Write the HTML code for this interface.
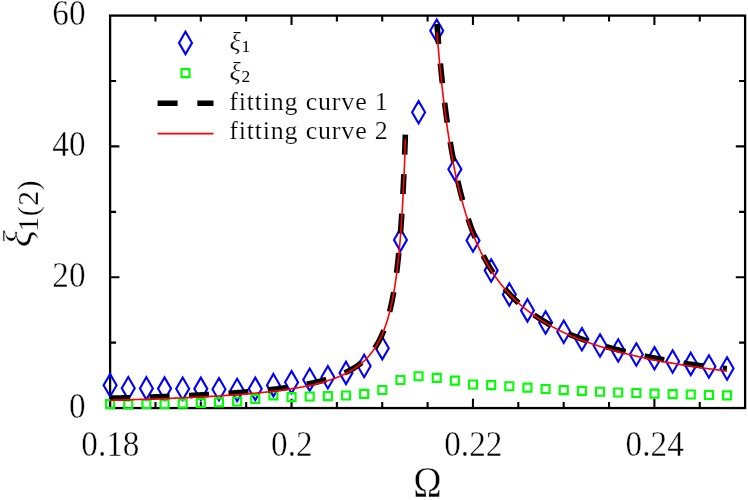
<!DOCTYPE html>
<html lang="en"><head><meta charset="utf-8"><title>Correlation length vs Omega</title>
<style>html,body{margin:0;padding:0;background:#fff;}body{width:748px;height:500px;overflow:hidden;font-family:"Liberation Serif",serif;}svg{display:block;will-change:transform;}text{font-family:"Liberation Serif",serif;fill:#000;stroke:#fff;stroke-width:0;}.t1{stroke-width:0.2px;}.t2{stroke-width:0.4px;}.t3{stroke-width:0.45px;}.t0{stroke-width:0;}</style></head><body>
<svg width="748" height="500" viewBox="0 0 748 500">
<rect x="0" y="0" width="748" height="500" fill="#ffffff"/>
<g stroke="#000" fill="none" stroke-linecap="butt">
<rect x="110.10" y="15.60" width="635.00" height="392.45" stroke-width="2.3" stroke-linejoin="miter"/>
<path d="M155.46 408.05 v-6.00 M155.46 15.60 v6.00 M200.81 408.05 v-6.00 M200.81 15.60 v6.00 M246.17 408.05 v-6.00 M246.17 15.60 v6.00 M291.53 408.05 v-9.30 M291.53 15.60 v9.30 M336.89 408.05 v-6.00 M336.89 15.60 v6.00 M382.24 408.05 v-6.00 M382.24 15.60 v6.00 M427.60 408.05 v-6.00 M427.60 15.60 v6.00 M472.96 408.05 v-9.30 M472.96 15.60 v9.30 M518.31 408.05 v-6.00 M518.31 15.60 v6.00 M563.67 408.05 v-6.00 M563.67 15.60 v6.00 M609.03 408.05 v-6.00 M609.03 15.60 v6.00 M654.39 408.05 v-9.30 M654.39 15.60 v9.30 M699.74 408.05 v-6.00 M699.74 15.60 v6.00 M110.10 342.64 h6.00 M745.10 342.64 h-6.00 M110.10 277.23 h9.30 M745.10 277.23 h-9.30 M110.10 211.83 h6.00 M745.10 211.83 h-6.00 M110.10 146.42 h9.30 M745.10 146.42 h-9.30 M110.10 81.01 h6.00 M745.10 81.01 h-6.00" stroke-width="2.1"/>
</g>
<path d="M110.10 374.10 L116.60 385.30 L110.10 396.50 L103.60 385.30Z M128.25 377.00 L134.75 388.20 L128.25 399.40 L121.75 388.20Z M146.39 377.20 L152.89 388.40 L146.39 399.60 L139.89 388.40Z M164.54 377.40 L171.04 388.60 L164.54 399.80 L158.04 388.60Z M182.68 377.50 L189.18 388.70 L182.68 399.90 L176.18 388.70Z M200.83 377.65 L207.33 388.85 L200.83 400.05 L194.33 388.85Z M218.98 378.05 L225.48 389.25 L218.98 400.45 L212.48 389.25Z M237.12 378.75 L243.62 389.95 L237.12 401.15 L230.62 389.95Z M255.27 377.65 L261.77 388.85 L255.27 400.05 L248.77 388.85Z M273.41 373.95 L279.91 385.15 L273.41 396.35 L266.91 385.15Z M291.56 371.10 L298.06 382.30 L291.56 393.50 L285.06 382.30Z M309.71 368.50 L316.21 379.70 L309.71 390.90 L303.21 379.70Z M327.85 366.10 L334.35 377.30 L327.85 388.50 L321.35 377.30Z M346.00 361.70 L352.50 372.90 L346.00 384.10 L339.50 372.90Z M364.14 354.80 L370.64 366.00 L364.14 377.20 L357.64 366.00Z M382.29 337.00 L388.79 348.20 L382.29 359.40 L375.79 348.20Z M400.44 228.70 L406.94 239.90 L400.44 251.10 L393.94 239.90Z M418.58 101.10 L425.08 112.30 L418.58 123.50 L412.08 112.30Z M436.73 19.50 L443.23 30.70 L436.73 41.90 L430.23 30.70Z M454.87 158.00 L461.37 169.20 L454.87 180.40 L448.37 169.20Z M473.02 229.30 L479.52 240.50 L473.02 251.70 L466.52 240.50Z M491.17 259.30 L497.67 270.50 L491.17 281.70 L484.67 270.50Z M509.31 283.30 L515.81 294.50 L509.31 305.70 L502.81 294.50Z M527.46 299.20 L533.96 310.40 L527.46 321.60 L520.96 310.40Z M545.60 311.30 L552.10 322.50 L545.60 333.70 L539.10 322.50Z M563.75 320.55 L570.25 331.75 L563.75 342.95 L557.25 331.75Z M581.90 328.05 L588.40 339.25 L581.90 350.45 L575.40 339.25Z M600.04 334.30 L606.54 345.50 L600.04 356.70 L593.54 345.50Z M618.19 339.30 L624.69 350.50 L618.19 361.70 L611.69 350.50Z M636.33 343.30 L642.83 354.50 L636.33 365.70 L629.83 354.50Z M654.48 347.10 L660.98 358.30 L654.48 369.50 L647.98 358.30Z M672.63 350.30 L679.13 361.50 L672.63 372.70 L666.13 361.50Z M690.77 352.70 L697.27 363.90 L690.77 375.10 L684.27 363.90Z M708.92 355.30 L715.42 366.50 L708.92 377.70 L702.42 366.50Z M727.06 357.30 L733.56 368.50 L727.06 379.70 L720.56 368.50Z" fill="none" stroke="#0000ff" stroke-width="2.1" stroke-linejoin="miter" stroke-miterlimit="10"/>
<path d="M106.10 400.15 h8.00 v8.00 h-8.00Z M124.25 400.35 h8.00 v8.00 h-8.00Z M142.39 399.95 h8.00 v8.00 h-8.00Z M160.54 400.05 h8.00 v8.00 h-8.00Z M178.68 399.65 h8.00 v8.00 h-8.00Z M196.83 398.85 h8.00 v8.00 h-8.00Z M214.98 398.35 h8.00 v8.00 h-8.00Z M233.12 397.55 h8.00 v8.00 h-8.00Z M251.27 394.95 h8.00 v8.00 h-8.00Z M269.41 391.35 h8.00 v8.00 h-8.00Z M287.56 393.15 h8.00 v8.00 h-8.00Z M305.71 392.45 h8.00 v8.00 h-8.00Z M323.85 392.15 h8.00 v8.00 h-8.00Z M342.00 391.55 h8.00 v8.00 h-8.00Z M360.14 389.85 h8.00 v8.00 h-8.00Z M378.29 385.95 h8.00 v8.00 h-8.00Z M396.44 375.95 h8.00 v8.00 h-8.00Z M414.58 372.25 h8.00 v8.00 h-8.00Z M432.73 373.85 h8.00 v8.00 h-8.00Z M450.87 376.65 h8.00 v8.00 h-8.00Z M469.02 380.45 h8.00 v8.00 h-8.00Z M487.17 381.15 h8.00 v8.00 h-8.00Z M505.31 382.25 h8.00 v8.00 h-8.00Z M523.46 383.65 h8.00 v8.00 h-8.00Z M541.60 384.95 h8.00 v8.00 h-8.00Z M559.75 386.15 h8.00 v8.00 h-8.00Z M577.90 386.90 h8.00 v8.00 h-8.00Z M596.04 387.75 h8.00 v8.00 h-8.00Z M614.19 388.55 h8.00 v8.00 h-8.00Z M632.33 389.05 h8.00 v8.00 h-8.00Z M650.48 389.65 h8.00 v8.00 h-8.00Z M668.63 390.15 h8.00 v8.00 h-8.00Z M686.77 390.55 h8.00 v8.00 h-8.00Z M704.92 391.05 h8.00 v8.00 h-8.00Z M723.06 391.35 h8.00 v8.00 h-8.00Z" fill="none" stroke="#00ff00" stroke-width="2.1" stroke-linejoin="miter"/>
<g fill="none" stroke="#000" stroke-width="5.6" stroke-dasharray="20 19.5" stroke-linecap="butt" stroke-linejoin="round">
<path d="M110.10 398.22 L111.44 398.19 L112.78 398.15 L114.13 398.12 L115.47 398.08 L116.81 398.05 L118.15 398.01 L119.50 397.98 L120.84 397.94 L122.18 397.90 L123.52 397.87 L124.87 397.83 L126.21 397.79 L127.55 397.75 L128.89 397.71 L130.23 397.67 L131.58 397.63 L132.92 397.59 L134.26 397.55 L135.60 397.51 L136.95 397.47 L138.29 397.43 L139.63 397.39 L140.97 397.35 L142.31 397.30 L143.66 397.26 L145.00 397.22 L146.34 397.17 L147.68 397.13 L149.03 397.08 L150.37 397.04 L151.71 396.99 L153.05 396.95 L154.40 396.90 L155.74 396.85 L157.08 396.80 L158.42 396.76 L159.76 396.71 L161.11 396.66 L162.45 396.61 L163.79 396.56 L165.13 396.51 L166.48 396.46 L167.82 396.40 L169.16 396.35 L170.50 396.30 L171.84 396.24 L173.19 396.19 L174.53 396.14 L175.87 396.08 L177.21 396.02 L178.56 395.97 L179.90 395.91 L181.24 395.85 L182.58 395.79 L183.93 395.73 L185.27 395.67 L186.61 395.61 L187.95 395.55 L189.29 395.49 L190.64 395.43 L191.98 395.36 L193.32 395.30 L194.66 395.23 L196.01 395.17 L197.35 395.10 L198.69 395.03 L200.03 394.96 L201.37 394.89 L202.72 394.82 L204.06 394.75 L205.40 394.68 L206.74 394.61 L208.09 394.53 L209.43 394.46 L210.77 394.38 L212.11 394.31 L213.46 394.23 L214.80 394.15 L216.14 394.07 L217.48 393.99 L218.82 393.91 L220.17 393.82 L221.51 393.74 L222.85 393.66 L224.19 393.57 L225.54 393.48 L226.88 393.39 L228.22 393.30 L229.56 393.21 L230.90 393.12 L232.25 393.03 L233.59 392.93 L234.93 392.84 L236.27 392.74 L237.62 392.64 L238.96 392.54 L240.30 392.44 L241.64 392.33 L242.99 392.23 L244.33 392.12 L245.67 392.01 L247.01 391.90 L248.35 391.79 L249.70 391.67 L251.04 391.56 L252.38 391.44 L253.72 391.32 L255.07 391.20 L256.41 391.07 L257.75 390.95 L259.09 390.82 L260.43 390.69 L261.78 390.55 L263.12 390.42 L264.46 390.28 L265.80 390.14 L267.15 390.00 L268.49 389.85 L269.83 389.70 L271.17 389.55 L272.52 389.40 L273.86 389.25 L275.20 389.09 L276.54 388.93 L277.88 388.76 L279.23 388.59 L280.57 388.42 L281.91 388.25 L283.25 388.07 L284.60 387.89 L285.94 387.71 L287.28 387.52 L288.62 387.32 L289.96 387.13 L291.31 386.92 L292.65 386.72 L293.99 386.50 L295.33 386.29 L296.68 386.07 L298.02 385.84 L299.36 385.61 L300.70 385.37 L302.05 385.12 L303.39 384.88 L304.73 384.62 L306.07 384.36 L307.41 384.09 L308.76 383.82 L310.10 383.54 L311.44 383.25 L312.78 382.95 L314.13 382.65 L315.47 382.34 L316.81 382.02 L318.15 381.69 L319.49 381.35 L320.84 381.01 L322.18 380.66 L323.52 380.30 L324.86 379.93 L326.21 379.55 L327.55 379.16 L328.89 378.75 L330.23 378.34 L331.58 377.91 L332.92 377.47 L334.26 377.01 L335.60 376.54 L336.94 376.05 L338.29 375.54 L339.63 375.02 L340.97 374.47 L342.31 373.91 L343.66 373.32 L345.00 372.71 L346.34 372.08 L347.68 371.43 L349.02 370.75 L350.37 370.04 L351.71 369.31 L353.05 368.54 L354.39 367.74 L355.74 366.89 L357.08 366.00 L358.42 365.07 L359.76 364.08 L361.11 363.04 L362.45 361.93 L363.79 360.76 L365.13 359.53 L366.47 358.23 L367.82 356.85 L369.16 355.38 L370.50 353.82 L371.84 352.15 L373.19 350.37 L374.53 348.47 L375.87 346.42 L376.54 345.34 L377.21 344.22 L377.88 343.05 L378.55 341.84 L379.23 340.58 L379.90 339.27 L380.57 337.91 L381.24 336.48 L381.91 335.00 L382.58 333.45 L383.25 331.82 L383.92 330.12 L384.60 328.33 L385.27 326.45 L385.94 324.48 L386.61 322.41 L387.28 320.22 L387.95 317.93 L388.40 316.33 L388.85 314.67 L389.29 312.95 L389.74 311.17 L390.19 309.32 L390.64 307.40 L391.08 305.41 L391.53 303.34 L391.98 301.18 L392.42 298.94 L392.87 296.60 L393.32 294.16 L393.66 292.26 L393.99 290.30 L394.33 288.28 L394.66 286.18 L395.00 284.01 L395.33 281.77 L395.67 279.45 L396.00 277.04 L396.27 275.04 L396.54 272.97 L396.81 270.84 L397.08 268.64 L397.35 266.36 L397.57 264.40 L397.79 262.39 L398.02 260.31 L398.24 258.18 L398.47 255.99 L398.69 253.73 L398.88 251.74 L399.07 249.70 L399.26 247.61 L399.46 245.46 L399.65 243.25 L399.84 240.99 L400.03 238.67 L400.20 236.58 L400.37 234.44 L400.53 232.25 L400.70 230.01 L400.87 227.71 L401.04 225.35 L401.21 222.93 L401.37 220.45 L401.52 218.19 L401.67 215.88 L401.82 213.52 L401.97 211.09 L402.12 208.61 L402.27 206.07 L402.42 203.46 L402.57 200.79 L402.72 198.05 L402.83 195.94 L402.94 193.80 L403.05 191.61 L403.16 189.39 L403.28 187.11 L403.39 184.79 L403.50 182.42 L403.61 180.01 L403.72 177.54 L403.83 175.02 L403.95 172.44 L404.06 169.81 L404.15 167.67 L404.24 165.48 L404.33 163.26 L404.42 161.00 L404.51 158.69 L404.59 156.35 L404.68 153.96 L404.77 151.52 L404.86 149.04 L404.95 146.51 L405.04 143.94 L405.13 141.31 L405.22 138.63 L405.31 135.90 L405.40 133.11"/>
<path d="M436.99 24.00 L437.17 26.43 L437.36 28.83 L437.55 31.20 L437.74 33.54 L437.93 35.86 L438.12 38.14 L438.30 40.40 L438.49 42.63 L438.68 44.83 L438.87 47.01 L439.06 49.16 L439.25 51.28 L439.43 53.38 L439.62 55.45 L439.84 57.84 L440.06 60.20 L440.28 62.53 L440.50 64.82 L440.72 67.08 L440.94 69.32 L441.16 71.52 L441.38 73.69 L441.60 75.84 L441.82 77.96 L442.04 80.05 L442.26 82.11 L442.52 84.55 L442.78 86.95 L443.05 89.31 L443.31 91.64 L443.57 93.93 L443.84 96.19 L444.10 98.41 L444.37 100.60 L444.63 102.76 L444.89 104.88 L445.16 106.97 L445.42 109.02 L445.68 111.05 L445.95 113.05 L446.21 115.02 L446.54 117.44 L446.87 119.82 L447.20 122.16 L447.53 124.47 L447.86 126.73 L448.19 128.96 L448.52 131.15 L448.85 133.31 L449.17 135.43 L449.50 137.52 L449.83 139.58 L450.16 141.60 L450.49 143.60 L450.82 145.56 L451.15 147.50 L451.48 149.40 L451.92 151.89 L452.36 154.34 L452.80 156.74 L453.24 159.09 L453.68 161.40 L454.12 163.66 L454.56 165.88 L454.99 168.06 L455.43 170.20 L455.87 172.30 L456.31 174.37 L456.75 176.39 L457.19 178.38 L457.63 180.34 L458.07 182.26 L458.51 184.15 L458.95 186.01 L459.39 187.83 L459.83 189.63 L460.26 191.39 L460.70 193.13 L461.14 194.84 L461.58 196.52 L462.02 198.17 L462.68 200.60 L463.34 202.98 L464.00 205.30 L464.66 207.56 L465.32 209.78 L465.97 211.95 L466.63 214.07 L467.29 216.15 L467.95 218.18 L468.61 220.17 L469.27 222.12 L469.93 224.02 L470.59 225.89 L471.25 227.72 L471.90 229.52 L472.56 231.28 L473.22 233.00 L473.88 234.69 L474.54 236.35 L475.20 237.98 L475.86 239.58 L476.52 241.14 L477.17 242.68 L477.83 244.19 L478.49 245.67 L479.15 247.13 L479.81 248.55 L480.47 249.96 L481.13 251.34 L481.79 252.69 L482.45 254.02 L483.10 255.33 L483.76 256.61 L484.42 257.88 L485.08 259.12 L485.74 260.34 L486.40 261.54 L487.06 262.72 L487.72 263.88 L488.37 265.02 L489.03 266.15 L489.69 267.25 L490.35 268.34 L491.01 269.41 L492.33 271.50 L493.64 273.53 L494.96 275.51 L496.28 277.42 L497.60 279.28 L498.92 281.09 L500.23 282.85 L501.55 284.57 L502.87 286.23 L504.19 287.85 L505.50 289.43 L506.82 290.96 L508.14 292.46 L509.46 293.91 L510.77 295.33 L512.09 296.70 L513.41 298.04 L514.73 299.35 L516.04 300.62 L517.36 301.86 L518.68 303.06 L520.00 304.23 L521.32 305.36 L522.63 306.47 L523.95 307.54 L525.27 308.59 L526.59 309.62 L527.90 310.61 L529.22 311.59 L530.54 312.54 L531.86 313.47 L533.17 314.39 L534.49 315.28 L535.81 316.16 L537.13 317.02 L538.44 317.87 L539.76 318.70 L541.08 319.52 L542.40 320.33 L543.72 321.13 L545.03 321.92 L546.35 322.69 L547.67 323.45 L548.99 324.19 L550.30 324.93 L551.62 325.65 L552.94 326.35 L554.26 327.05 L555.57 327.74 L556.89 328.41 L558.21 329.07 L559.53 329.72 L560.84 330.36 L562.16 330.99 L563.48 331.60 L564.80 332.21 L566.11 332.81 L567.43 333.39 L568.75 333.97 L570.07 334.53 L571.39 335.09 L572.70 335.63 L574.02 336.16 L575.34 336.68 L576.66 337.19 L577.97 337.69 L579.29 338.19 L580.61 338.67 L581.93 339.14 L583.24 339.61 L584.56 340.07 L585.88 340.52 L587.20 340.96 L588.51 341.40 L589.83 341.83 L591.15 342.25 L592.47 342.67 L593.79 343.08 L595.10 343.48 L596.42 343.88 L597.74 344.28 L599.06 344.67 L600.37 345.05 L601.69 345.44 L603.01 345.82 L604.33 346.19 L605.64 346.56 L606.96 346.93 L608.28 347.29 L609.60 347.65 L610.91 348.00 L612.23 348.35 L613.55 348.70 L614.87 349.04 L616.19 349.37 L617.50 349.70 L618.82 350.04 L620.14 350.36 L621.46 350.69 L622.77 351.02 L624.09 351.34 L625.41 351.67 L626.73 351.99 L628.04 352.31 L629.36 352.63 L630.68 352.95 L632.00 353.26 L633.31 353.56 L634.63 353.87 L635.95 354.17 L637.27 354.47 L638.58 354.76 L639.90 355.05 L641.22 355.34 L642.54 355.62 L643.86 355.91 L645.17 356.19 L646.49 356.46 L647.81 356.73 L649.13 357.00 L650.44 357.27 L651.76 357.54 L653.08 357.80 L654.40 358.06 L655.71 358.31 L657.03 358.57 L658.35 358.82 L659.67 359.07 L660.98 359.31 L662.30 359.56 L663.62 359.80 L664.94 360.04 L666.26 360.28 L667.57 360.51 L668.89 360.74 L670.21 360.97 L671.53 361.20 L672.84 361.43 L674.16 361.65 L675.48 361.87 L676.80 362.09 L678.11 362.31 L679.43 362.52 L680.75 362.74 L682.07 362.95 L683.38 363.16 L684.70 363.37 L686.02 363.57 L687.34 363.78 L688.66 363.97 L689.97 364.17 L691.29 364.37 L692.61 364.56 L693.93 364.75 L695.24 364.94 L696.56 365.12 L697.88 365.31 L699.20 365.49 L700.51 365.67 L701.83 365.85 L703.15 366.03 L704.47 366.20 L705.78 366.37 L707.10 366.54 L708.42 366.70 L709.74 366.86 L711.05 367.02 L712.37 367.17 L713.69 367.32 L715.01 367.47 L716.33 367.62 L717.64 367.76 L718.96 367.90 L720.28 368.04 L721.60 368.17 L722.91 368.31 L724.23 368.44 L725.55 368.57 L726.87 368.69" stroke-dasharray="20 19.57"/>
</g>
<g fill="none" stroke="#ff0000" stroke-width="1.6" stroke-linecap="butt" stroke-linejoin="round">
<path d="M110.10 400.25 L111.44 400.22 L112.78 400.18 L114.13 400.15 L115.47 400.11 L116.81 400.08 L118.15 400.04 L119.50 400.00 L120.84 399.97 L122.18 399.93 L123.52 399.89 L124.87 399.86 L126.21 399.82 L127.55 399.78 L128.89 399.74 L130.23 399.70 L131.58 399.66 L132.92 399.62 L134.26 399.58 L135.60 399.54 L136.95 399.50 L138.29 399.46 L139.63 399.42 L140.97 399.37 L142.31 399.33 L143.66 399.29 L145.00 399.24 L146.34 399.20 L147.68 399.16 L149.03 399.11 L150.37 399.07 L151.71 399.02 L153.05 398.97 L154.40 398.93 L155.74 398.88 L157.08 398.83 L158.42 398.78 L159.76 398.74 L161.11 398.69 L162.45 398.64 L163.79 398.59 L165.13 398.53 L166.48 398.48 L167.82 398.43 L169.16 398.38 L170.50 398.33 L171.84 398.27 L173.19 398.22 L174.53 398.16 L175.87 398.11 L177.21 398.05 L178.56 397.99 L179.90 397.94 L181.24 397.88 L182.58 397.82 L183.93 397.76 L185.27 397.70 L186.61 397.64 L187.95 397.58 L189.29 397.52 L190.64 397.45 L191.98 397.39 L193.32 397.32 L194.66 397.26 L196.01 397.19 L197.35 397.13 L198.69 397.06 L200.03 396.99 L201.37 396.92 L202.72 396.85 L204.06 396.78 L205.40 396.71 L206.74 396.63 L208.09 396.56 L209.43 396.48 L210.77 396.41 L212.11 396.33 L213.46 396.25 L214.80 396.17 L216.14 396.09 L217.48 396.01 L218.82 395.93 L220.17 395.85 L221.51 395.76 L222.85 395.68 L224.19 395.59 L225.54 395.50 L226.88 395.41 L228.22 395.32 L229.56 395.23 L230.90 395.13 L232.25 395.04 L233.59 394.94 L234.93 394.84 L236.27 394.74 L237.62 394.64 L238.96 394.54 L240.30 394.44 L241.64 394.33 L242.99 394.22 L244.33 394.12 L245.67 394.01 L247.01 393.89 L248.35 393.78 L249.70 393.66 L251.04 393.54 L252.38 393.42 L253.72 393.30 L255.07 393.18 L256.41 393.05 L257.75 392.92 L259.09 392.79 L260.43 392.66 L261.78 392.53 L263.12 392.39 L264.46 392.25 L265.80 392.11 L267.15 391.96 L268.49 391.81 L269.83 391.66 L271.17 391.51 L272.52 391.35 L273.86 391.19 L275.20 391.03 L276.54 390.87 L277.88 390.70 L279.23 390.53 L280.57 390.35 L281.91 390.17 L283.25 389.99 L284.60 389.80 L285.94 389.61 L287.28 389.42 L288.62 389.22 L289.96 389.01 L291.31 388.81 L292.65 388.60 L293.99 388.38 L295.33 388.16 L296.68 387.93 L298.02 387.70 L299.36 387.46 L300.70 387.22 L302.05 386.97 L303.39 386.72 L304.73 386.45 L306.07 386.19 L307.41 385.91 L308.76 385.63 L310.10 385.34 L311.44 385.05 L312.78 384.74 L314.13 384.43 L315.47 384.11 L316.81 383.78 L318.15 383.45 L319.49 383.10 L320.84 382.74 L322.18 382.37 L323.52 381.99 L324.86 381.60 L326.21 381.20 L327.55 380.78 L328.89 380.36 L330.23 379.92 L331.58 379.46 L332.92 378.99 L334.26 378.50 L335.60 378.00 L336.94 377.48 L338.29 376.94 L339.63 376.38 L340.97 375.80 L342.31 375.20 L343.66 374.58 L345.00 373.93 L346.34 373.25 L347.68 372.55 L349.02 371.82 L350.37 371.06 L351.71 370.27 L353.05 369.44 L354.39 368.58 L355.74 367.67 L357.08 366.73 L358.42 365.73 L359.76 364.69 L361.11 363.60 L362.45 362.45 L363.79 361.24 L365.13 359.96 L366.47 358.61 L367.82 357.18 L369.16 355.66 L370.50 354.06 L371.84 352.35 L373.19 350.53 L374.53 348.58 L375.87 346.50 L376.54 345.41 L377.21 344.27 L377.88 343.10 L378.55 341.87 L379.23 340.60 L379.90 339.29 L380.57 337.91 L381.24 336.49 L381.91 335.00 L382.58 333.45 L383.25 331.83 L383.92 330.14 L384.60 328.38 L385.27 326.53 L385.94 324.60 L386.61 322.57 L387.28 320.43 L387.95 318.19 L388.40 316.63 L388.85 315.02 L389.29 313.35 L389.74 311.62 L390.19 309.82 L390.64 307.95 L391.08 306.01 L391.53 304.00 L391.98 301.90 L392.42 299.72 L392.87 297.44 L393.32 295.07 L393.66 293.22 L393.99 291.31 L394.33 289.34 L394.66 287.30 L395.00 285.18 L395.33 282.99 L395.67 280.72 L396.00 278.37 L396.27 276.43 L396.54 274.42 L396.81 272.35 L397.08 270.22 L397.35 268.02 L397.62 265.75 L397.88 263.40 L398.15 260.97 L398.42 258.46 L398.69 255.87 L398.91 253.63 L399.14 251.33 L399.36 248.96 L399.58 246.52 L399.81 244.00 L400.03 241.40 L400.20 239.40 L400.37 237.34 L400.53 235.24 L400.70 233.08 L400.87 230.87 L401.04 228.60 L401.21 226.28 L401.37 223.89 L401.52 221.71 L401.67 219.49 L401.82 217.20 L401.97 214.86 L402.12 212.47 L402.27 210.01 L402.42 207.49 L402.57 204.91 L402.72 202.26 L402.84 200.03 L402.96 197.76 L403.08 195.44 L403.20 193.07 L403.33 190.64 L403.45 188.16 L403.57 185.62 L403.69 183.02 L403.81 180.36 L403.94 177.64 L404.06 174.85 L404.15 172.76 L404.24 170.63 L404.33 168.47 L404.42 166.26 L404.51 164.01 L404.59 161.72 L404.68 159.39 L404.77 157.01 L404.86 154.59 L404.95 152.12 L405.04 149.60 L405.13 147.03 L405.22 144.41 L405.31 141.73 L405.40 139.00"/>
<path d="M436.99 32.50 L437.17 34.85 L437.36 37.16 L437.55 39.45 L437.74 41.71 L437.93 43.94 L438.12 46.14 L438.30 48.31 L438.52 50.81 L438.74 53.28 L438.96 55.71 L439.18 58.10 L439.40 60.46 L439.62 62.79 L439.84 65.09 L440.06 67.35 L440.28 69.58 L440.50 71.79 L440.72 73.96 L440.94 76.10 L441.20 78.64 L441.47 81.13 L441.73 83.59 L441.99 86.01 L442.26 88.39 L442.52 90.73 L442.78 93.04 L443.05 95.31 L443.31 97.55 L443.57 99.76 L443.84 101.93 L444.10 104.07 L444.37 106.18 L444.63 108.26 L444.89 110.32 L445.22 112.84 L445.55 115.32 L445.88 117.75 L446.21 120.15 L446.54 122.50 L446.87 124.81 L447.20 127.09 L447.53 129.32 L447.86 131.52 L448.19 133.69 L448.52 135.82 L448.85 137.91 L449.17 139.98 L449.50 142.00 L449.83 144.00 L450.16 145.97 L450.49 147.91 L450.82 149.81 L451.15 151.69 L451.48 153.54 L451.92 155.97 L452.36 158.34 L452.80 160.67 L453.24 162.96 L453.68 165.20 L454.12 167.40 L454.56 169.56 L454.99 171.68 L455.43 173.76 L455.87 175.80 L456.31 177.81 L456.75 179.78 L457.19 181.71 L457.63 183.62 L458.07 185.49 L458.51 187.32 L458.95 189.13 L459.39 190.91 L459.83 192.65 L460.26 194.37 L460.70 196.06 L461.14 197.72 L461.58 199.36 L462.02 200.97 L462.68 203.33 L463.34 205.64 L464.00 207.90 L464.66 210.11 L465.32 212.26 L465.97 214.37 L466.63 216.44 L467.29 218.45 L467.95 220.43 L468.61 222.36 L469.27 224.25 L469.93 226.10 L470.59 227.92 L471.25 229.70 L471.90 231.44 L472.56 233.14 L473.22 234.82 L473.88 236.46 L474.54 238.07 L475.20 239.65 L475.86 241.19 L476.52 242.71 L477.17 244.21 L477.83 245.67 L478.49 247.11 L479.15 248.52 L479.81 249.91 L480.47 251.27 L481.13 252.61 L481.79 253.92 L482.45 255.21 L483.10 256.48 L483.76 257.73 L484.42 258.96 L485.08 260.17 L485.74 261.36 L486.40 262.52 L487.06 263.67 L487.72 264.80 L488.37 265.92 L489.03 267.01 L489.69 268.09 L491.01 270.20 L492.33 272.24 L493.64 274.23 L494.96 276.15 L496.28 278.02 L497.60 279.84 L498.92 281.60 L500.23 283.32 L501.55 284.99 L502.87 286.61 L504.19 288.19 L505.50 289.73 L506.82 291.23 L508.14 292.70 L509.46 294.12 L510.77 295.52 L512.09 296.87 L513.41 298.20 L514.73 299.49 L516.04 300.75 L517.36 301.99 L518.68 303.19 L520.00 304.37 L521.32 305.52 L522.63 306.65 L523.95 307.75 L525.27 308.83 L526.59 309.88 L527.90 310.91 L529.22 311.92 L530.54 312.91 L531.86 313.88 L533.17 314.83 L534.49 315.76 L535.81 316.68 L537.13 317.57 L538.44 318.45 L539.76 319.31 L541.08 320.15 L542.40 320.98 L543.72 321.79 L545.03 322.59 L546.35 323.38 L547.67 324.15 L548.99 324.90 L550.30 325.64 L551.62 326.37 L552.94 327.09 L554.26 327.79 L555.57 328.48 L556.89 329.16 L558.21 329.83 L559.53 330.49 L560.84 331.14 L562.16 331.77 L563.48 332.40 L564.80 333.02 L566.11 333.62 L567.43 334.22 L568.75 334.80 L570.07 335.38 L571.39 335.95 L572.70 336.51 L574.02 337.06 L575.34 337.61 L576.66 338.14 L577.97 338.67 L579.29 339.19 L580.61 339.70 L581.93 340.21 L583.24 340.70 L584.56 341.19 L585.88 341.68 L587.20 342.15 L588.51 342.62 L589.83 343.09 L591.15 343.54 L592.47 344.00 L593.79 344.44 L595.10 344.88 L596.42 345.31 L597.74 345.74 L599.06 346.16 L600.37 346.58 L601.69 346.99 L603.01 347.39 L604.33 347.79 L605.64 348.19 L606.96 348.58 L608.28 348.96 L609.60 349.34 L610.91 349.72 L612.23 350.09 L613.55 350.46 L614.87 350.82 L616.19 351.18 L617.50 351.53 L618.82 351.88 L620.14 352.22 L621.46 352.56 L622.77 352.90 L624.09 353.23 L625.41 353.56 L626.73 353.89 L628.04 354.21 L629.36 354.53 L630.68 354.84 L632.00 355.15 L633.31 355.46 L634.63 355.77 L635.95 356.07 L637.27 356.36 L638.58 356.66 L639.90 356.95 L641.22 357.24 L642.54 357.52 L643.86 357.80 L645.17 358.08 L646.49 358.36 L647.81 358.63 L649.13 358.90 L650.44 359.17 L651.76 359.43 L653.08 359.69 L654.40 359.95 L655.71 360.21 L657.03 360.46 L658.35 360.72 L659.67 360.96 L660.98 361.21 L662.30 361.46 L663.62 361.70 L664.94 361.94 L666.26 362.17 L667.57 362.41 L668.89 362.64 L670.21 362.87 L671.53 363.10 L672.84 363.32 L674.16 363.55 L675.48 363.77 L676.80 363.99 L678.11 364.21 L679.43 364.42 L680.75 364.64 L682.07 364.85 L683.38 365.06 L684.70 365.26 L686.02 365.47 L687.34 365.67 L688.66 365.88 L689.97 366.08 L691.29 366.28 L692.61 366.47 L693.93 366.67 L695.24 366.86 L696.56 367.05 L697.88 367.24 L699.20 367.43 L700.51 367.62 L701.83 367.80 L703.15 367.99 L704.47 368.17 L705.78 368.35 L707.10 368.53 L708.42 368.71 L709.74 368.88 L711.05 369.06 L712.37 369.23 L713.69 369.40 L715.01 369.57 L716.33 369.74 L717.64 369.91 L718.96 370.08 L720.28 370.24 L721.60 370.40 L722.91 370.57 L724.23 370.73 L725.55 370.89 L726.87 371.05"/>
</g>
<path d="M185.50 31.70 L192.00 42.90 L185.50 54.10 L179.00 42.90Z" fill="none" stroke="#0000ff" stroke-width="2.1" stroke-linejoin="miter"/>
<path d="M181.50 69.10 h8.00 v8.00 h-8.00Z" fill="none" stroke="#00ff00" stroke-width="2.1" stroke-linejoin="miter"/>
<path d="M157.6 103.3 H213.5" fill="none" stroke="#000" stroke-width="5.6" stroke-dasharray="20 19.7"/>
<path d="M157.6 133.6 H213.5" fill="none" stroke="#ff0000" stroke-width="1.6"/>
<text class="t1" x="229.5" y="50" font-size="26" font-style="italic">ξ<tspan class="t0" font-size="17.5" font-style="normal" dx="0.8" dy="2.1">1</tspan></text>
<text class="t1" x="229.5" y="79.8" font-size="26" font-style="italic">ξ<tspan class="t0" font-size="17.5" font-style="normal" dx="0.8" dy="2.1">2</tspan></text>
<text class="t1" x="229.2" y="109.5" font-size="26" textLength="158.6" lengthAdjust="spacing">fitting curve 1</text>
<text class="t1" x="229.2" y="139.1" font-size="26" textLength="158.6" lengthAdjust="spacing">fitting curve 2</text>
<text class="t2" transform="translate(85.6,25.3) scale(0.950,1)" font-size="35.0" text-anchor="end">60</text>
<text class="t2" transform="translate(85.6,155.9) scale(0.950,1)" font-size="35.0" text-anchor="end">40</text>
<text class="t2" transform="translate(85.6,286.7) scale(0.950,1)" font-size="35.0" text-anchor="end">20</text>
<text class="t2" transform="translate(85.6,417.9) scale(0.950,1)" font-size="35.0" text-anchor="end">0</text>
<text class="t2" transform="translate(110.4,455.9) scale(0.950,1)" font-size="35.0" text-anchor="middle">0.18</text>
<text class="t2" transform="translate(291.8,455.9) scale(0.950,1)" font-size="35.0" text-anchor="middle">0.2</text>
<text class="t2" transform="translate(473.3,455.9) scale(0.950,1)" font-size="35.0" text-anchor="middle">0.22</text>
<text class="t2" transform="translate(654.7,455.9) scale(0.950,1)" font-size="35.0" text-anchor="middle">0.24</text>
<text class="t3" transform="translate(427.4,497) scale(0.87,1)" font-size="44" text-anchor="middle">Ω</text>
<text class="t3" transform="translate(31,247.3) rotate(-90)" font-size="40" font-style="italic">ξ<tspan class="t1" font-size="29.6" font-style="normal" letter-spacing="0.7" dx="-1.6" dy="7">1(2)</tspan></text>
</svg></body></html>
